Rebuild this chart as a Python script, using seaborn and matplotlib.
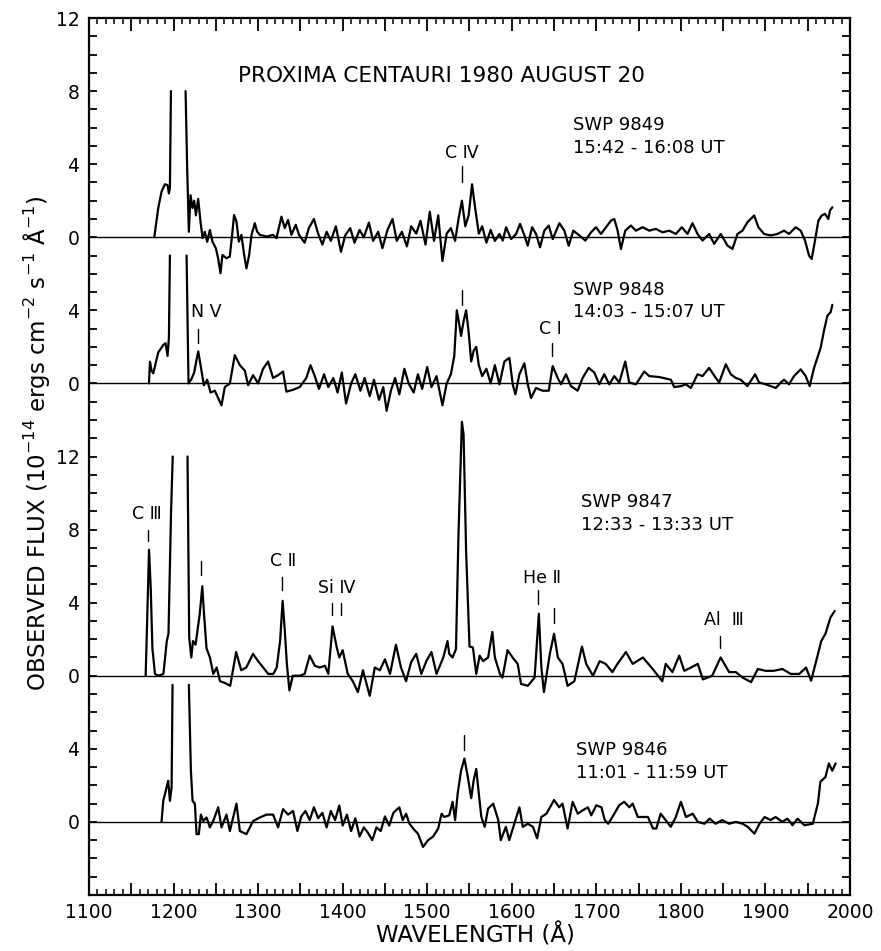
import numpy as np
import pandas as pd
import matplotlib
matplotlib.use("Agg")
import matplotlib.pyplot as plt
from matplotlib.ticker import MultipleLocator, FixedLocator, FuncFormatter
import seaborn as sns

sns.set_theme(style="white")
plt.rcParams["font.family"] = ["DejaVu Sans"]
plt.rcParams["mathtext.fontset"] = "dejavusans"
plt.rcParams["text.color"] = "black"
plt.rcParams["axes.labelcolor"] = "black"
plt.rcParams["xtick.color"] = "black"
plt.rcParams["ytick.color"] = "black"

NAN = np.nan

# ---------------- data (wavelength in Angstrom, flux in 1e-14 units) ----------------
wl_9849 = [1177.2, 1181.9, 1185.8, 1189.8, 1192.9, 1194.5, 1195.7, 1196.9, 1205,
           1214.2, 1216.1, 1218.1, 1220.1, 1222.4, 1224.4, 1226.4, 1229.1, 1231.9, 1234.3,
           1237.0, 1239.8, 1242.9, 1246.1, 1250.0, 1252.7, 1255.5, 1257.8, 1262.5, 1266.5,
           1269.2, 1271.6, 1274.4, 1277.2, 1280.3, 1283.5, 1286.2, 1289.4, 1292.2, 1296.1,
           1298.8, 1302.0, 1309.9, 1317.7, 1321.7, 1327.6, 1331.5, 1335.4, 1339.4, 1344.5,
           1348.4, 1355, 1360, 1366, 1371, 1376, 1381, 1386, 1392, 1398, 1403, 1409, 1414,
           1420, 1425, 1431, 1436, 1442, 1447, 1453, 1459, 1464, 1470, 1476, 1481, 1487,
           1492, 1498, 1503, 1508, 1513, 1518, 1523, 1528, 1533, 1537, 1541, 1545, 1549,
           1553, 1557, 1561, 1565, 1570, 1575, 1580,
           1585.4, 1589.3, 1593.3, 1599.2, 1605.1, 1609.8, 1614.9, 1618.9, 1624.0, 1628.7,
           1633.4, 1638.5, 1643.7, 1648.4, 1656.3, 1662.2, 1667.3, 1672.8, 1679.9, 1687.0,
           1693.7, 1699.6, 1705.5, 1711.4, 1717.3, 1721.2, 1725.2, 1729.1, 1734.2, 1740.9,
           1746.8, 1754.7, 1762.6, 1770.4, 1778.3, 1786.2, 1794.1, 1801.1, 1807.8, 1813.7,
           1819.7, 1825.6, 1833.4, 1839.3, 1847.2, 1855.1, 1861.0, 1866.9, 1872.8, 1878.7,
           1886.6, 1891.7, 1898.4, 1906.3, 1914.1, 1922.0, 1927.9, 1935.8, 1941.7, 1946.8,
           1951.5, 1954.7, 1958.6, 1962.6, 1966.5, 1970.4, 1974.4, 1976.3, 1979.1]
fx_9849 = [0.0, 1.6, 2.5, 2.9, 2.85, 2.4, 2.7, 8.0, NAN,
           8.0, 3.8, 0.3, 2.3, 1.6, 2.0, 1.2, 2.1, 0.85, -0.05,
           0.3, -0.25, 0.4, -0.25, -0.6, -1.15, -1.97, -0.97, -1.15, -1.06,
           0.1, 1.22, 0.86, -0.24, 0.13, -0.97, -1.7, -0.97, 0.13, 0.77,
           0.31, 0.13, 0.04, 0.13, -0.05, 1.13, 0.5, 0.95, 0.13, 0.68,
           0.13, -0.3, 0.5, 1.0, 0.2, -0.4, 0.3, -0.2, 0.6, -0.8, 0.1, 0.5, -0.3,
           0.4, 0.0, 0.8, -0.2, 0.3, -0.6, 0.4, 1.0, -0.2, 0.3, -0.5, 0.6, 0.2,
           0.9, -0.4, 1.4, -0.2, 1.2, -1.3, 0.2, 0.5, -0.2, 1.0, 2.0, 0.6, 1.2,
           2.9, 1.5, 0.2, 0.6, -0.3, 0.4, -0.2,
           0.18, -0.18, 0.55, -0.1, 0.18, 0.73, 0.1, -0.46, 0.55, 0.18,
           -0.55, 0.36, 0.64, -0.1, 0.77, 0.36, -0.46, 0.36, 0.1, -0.18,
           0.27, 0.55, 0.18, 0.55, 0.91, 1.0, 0.36, -0.64, 0.36, 0.64,
           0.36, 0.55, 0.36, 0.46, 0.27, 0.36, 0.18, 0.55, 0.18, 0.77,
           0.18, -0.18, 0.18, -0.36, 0.18, -0.46, -0.64, 0.18, 0.36, 0.82,
           1.19, 0.55, 0.18, 0.1, 0.18, 0.36, 0.18, 0.55, 0.36, -0.18,
           -1.0, -1.19, -0.18, 0.91, 1.19, 1.28, 1.0, 1.46, 1.64]

wl_9848 = [1170.9, 1172.1, 1174.0, 1176.0, 1181.9, 1187.8, 1190.6, 1192.9, 1194.5, 1195.7, 1205,
           1215.4, 1217.7, 1221.3, 1224.4, 1227.2, 1229.2, 1232.3, 1235.8, 1239.8, 1243.7,
           1248.8, 1252.8, 1256.7, 1260.6, 1266.6, 1272.4, 1278.4, 1284.3, 1288.2, 1294.1,
           1300.0, 1305.9, 1311.8, 1317.7, 1323.6, 1329.5, 1333.5, 1341.3, 1349.2,
           1357, 1362, 1367, 1372, 1378, 1383, 1389, 1394, 1399, 1404, 1410, 1415, 1421,
           1426, 1432, 1437, 1443, 1448, 1452, 1457, 1462, 1467, 1473, 1478, 1484, 1489,
           1494, 1500, 1505, 1511, 1518, 1523, 1528, 1532, 1535, 1538, 1540, 1543, 1546,
           1549, 1552, 1555, 1558, 1561, 1565, 1570, 1575, 1580,
           1585.4, 1591.3, 1597.2, 1601.1, 1604.3, 1609.0, 1614.9, 1618.9, 1622.8, 1628.7,
           1636.6, 1643.7, 1648.4, 1654.3, 1658.2, 1664.1, 1670.0, 1677.9, 1683.8, 1690.9,
           1697.6, 1703.5, 1709.4, 1715.3, 1721.2, 1727.1, 1734.2, 1738.9, 1746.8, 1756.7,
           1762.6, 1774.4, 1788.2, 1792.1, 1800.0, 1805.9, 1811.8, 1819.7, 1825.6, 1833.4,
           1841.3, 1845.3, 1853.1, 1859.0, 1864.9, 1870.8, 1878.7, 1887.8, 1892.5, 1900.4,
           1906.3, 1912.2, 1918.1, 1922.0, 1927.9, 1933.8, 1941.7, 1947.6, 1952.3, 1957.5,
           1965.3, 1969.3, 1973.2, 1977.1, 1979.1]
fx_9848 = [0.0, 1.19, 0.7, 0.55, 1.7, 2.1, 2.2, 1.5, 2.5, 7.0, NAN,
           7.0, 0.0, 0.25, 0.6, 1.3, 1.75, 0.9, -0.1, 0.2, -0.5,
           -0.4, -0.8, -1.2, -0.2, 0.0, 1.55, 1.0, 0.7, -0.1, 0.45,
           0.0, 0.8, 1.2, 0.3, 0.45, 0.65, -0.45, -0.35, -0.2,
           0.3, 1.0, 0.4, -0.3, 0.5, -0.2, 0.3, -0.5, 0.6, -1.1, 0.0, 0.5, -0.4,
           0.3, -0.7, 0.2, -0.9, -0.2, -1.5, -0.4, 0.3, -0.6, 0.8, 0.0, -0.5, 0.5,
           -0.3, 0.9, -0.2, 0.4, -1.2, 0.0, 0.5, 1.5, 4.0, 3.2, 2.6, 3.4, 4.0,
           2.8, 1.2, 1.8, 2.0, 1.0, 0.4, 0.8, 0.0, 1.0,
           -0.05, 1.2, 1.4, -0.05, -0.6, 0.5, 1.1, -0.05, -0.8, -0.25,
           -0.4, -0.4, 0.95, 0.3, -0.05, 0.5, -0.15, -0.4, 0.3, 0.85,
           0.6, -0.05, 0.5, -0.05, 0.4, 0.05, 1.2, 0.05, -0.05, 0.65,
           0.4, 0.35, 0.2, -0.2, -0.15, -0.05, -0.25, 0.5, 0.4, 0.85,
           0.3, 0.05, 1.05, 0.5, 0.3, 0.2, -0.15, 0.5, 0.05, -0.05,
           -0.15, -0.25, 0.05, 0.2, -0.05, 0.4, 0.77, 0.4, -0.15, 0.85,
           1.95, 2.9, 3.7, 3.9, 4.3]

wl_9847 = [1167, 1169, 1171, 1173, 1175, 1178, 1182, 1188, 1192, 1194, 1197, 1199, 1208,
           1216.5, 1218.5, 1221, 1223, 1226, 1231, 1234, 1236, 1239, 1243, 1247, 1251,
           1255, 1261, 1267, 1274, 1280, 1286, 1294, 1300, 1306, 1312, 1318, 1322, 1326,
           1329, 1331.5, 1334, 1337, 1341, 1349, 1355, 1361, 1367, 1373, 1379, 1383, 1388,
           1393, 1396, 1400, 1406, 1412, 1418, 1424, 1432, 1438, 1444, 1450, 1456, 1463,
           1469, 1475, 1481, 1487, 1493, 1499, 1505, 1511, 1519, 1524,
           1526, 1530, 1534, 1537, 1541, 1543, 1546, 1550, 1554, 1558, 1562, 1566, 1572,
           1577, 1580, 1586, 1589, 1595, 1601, 1607, 1611, 1619, 1627, 1632, 1635, 1638,
           1645, 1650, 1654.5, 1660, 1666, 1674, 1683, 1688, 1696, 1704, 1711, 1719, 1725,
           1735, 1743, 1755, 1767, 1778, 1782, 1790, 1798, 1804, 1812, 1820, 1826, 1837,
           1847, 1857, 1865, 1873, 1883, 1891, 1900, 1910, 1920, 1930, 1940, 1948, 1954,
           1960, 1966, 1971, 1977, 1982]
fx_9847 = [0.0, 3.4, 6.9, 4.8, 1.5, 0.1, 0.0, 0.1, 1.9, 2.3, 8.9, 12.0, NAN,
           12.0, 2.1, 1.0, 1.9, 1.7, 3.4, 4.9, 3.4, 1.5, 1.0, 0.1, 0.45,
           -0.3, -0.4, -0.55, 1.3, 0.3, 0.45, 1.2, 0.8, 0.45, 0.1, 0.1, 0.45, 1.9,
           4.1, 2.5, 0.65, -0.8, 0.0, 0.0, 0.1, 1.1, 0.55, 0.45, 0.55, 0.1, 2.7,
           1.55, 1.0, 1.4, 0.1, -0.3, -0.9, 0.3, -1.1, 0.45, 0.3, 0.9, 0.1, 1.7,
           0.45, -0.3, 0.75, 1.2, 0.1, 0.8, 1.3, 0.1, 1.0, 1.9,
           1.2, 1.0, 1.46, 7.8, 13.9, 13.2, 6.8, 1.6, 1.55, 0.1, 1.1, 0.8, 1.0,
           2.4, 1.0, 0.1, -0.1, 1.4, 1.0, 0.65, -0.45, -0.55, -0.1, 3.4, 0.45, -0.9,
           1.2, 2.3, 1.0, 0.65, -0.55, -0.3, 1.6, 0.65, 0.0, 0.8, 0.65, 0.2, 0.65,
           1.3, 0.65, 1.0, 0.35, -0.3, 0.65, 0.2, 1.1, 0.27, 0.45, 0.65, -0.2, 0.0,
           1.0, 0.2, 0.2, -0.1, -0.35, 0.37, 0.27, 0.27, 0.37, 0.1, 0.1, 0.45, -0.27,
           0.8, 1.9, 2.3, 3.2, 3.55]

wl_9846 = [1185.8, 1187.8, 1191.8, 1193.7, 1195.7, 1197.7, 1198.8, 1208,
           1218.1, 1220.5, 1222.5, 1225.2, 1227.2, 1229.9, 1232.3, 1235.1, 1239.0, 1242.9,
           1246.9, 1252.8, 1256.7, 1262.6, 1266.6, 1274.4, 1278.4, 1286.2, 1294.1, 1302.0,
           1309.9, 1317.7, 1323.6, 1329.5, 1335.4, 1341.3, 1346.5,
           1351, 1356, 1361, 1366, 1371, 1376, 1381, 1386, 1391, 1396, 1400, 1405, 1410,
           1415, 1420, 1425, 1430, 1435, 1440, 1445, 1450, 1455, 1460,
           1467, 1471, 1475, 1479, 1485, 1489, 1495, 1501, 1507, 1513, 1517, 1520, 1526,
           1530, 1533, 1536, 1540, 1544, 1548, 1552, 1555, 1558, 1561, 1564, 1568, 1572,
           1578, 1584, 1587, 1593, 1597, 1603, 1609, 1613, 1619, 1625, 1630, 1635, 1641,
           1650, 1656, 1660, 1666, 1672, 1678, 1684, 1690, 1694, 1700, 1706, 1710, 1714,
           1719, 1727, 1733, 1739, 1743, 1749, 1761, 1767, 1771, 1776, 1782, 1788, 1794,
           1800, 1806, 1814, 1820, 1828, 1834, 1841, 1849, 1857, 1865, 1873, 1879, 1887,
           1893, 1899, 1906, 1912, 1920, 1926, 1932, 1938, 1946, 1956, 1962, 1965, 1971,
           1975, 1979, 1983]
fx_9846 = [0.0, 1.15, 1.9, 2.25, 1.15, 1.9, 7.5, NAN,
           7.5, 2.8, 1.15, 1.0, -0.67, -0.67, 0.4, 0.05, 0.24, -0.3,
           0.05, 0.8, -0.3, 0.4, -0.5, 1.0, -0.5, -0.67, 0.05, 0.24,
           0.4, 0.4, -0.3, 0.7, 0.4, 0.6, -0.5,
           0.3, 0.6, 0.1, 0.8, 0.2, 0.5, -0.3, 0.6, 0.1, 0.9, -0.2, 0.4, -0.5,
           0.2, -0.8, -0.3, -0.6, -1.0, -0.3, -0.5, 0.3, -0.2, 0.5,
           0.8, 0.1, 0.45, -0.1, -0.45, -0.64, -1.37, -1.0, -0.8, -0.36, 0.45, 0.27, 0.36,
           1.1, 0.1, 1.55, 2.8, 3.47, 2.46, 1.3, 2.3, 2.9, 1.55, 0.27, -0.27, 0.73,
           1.0, 0.1, -1.0, -0.27, -1.0, -0.1, 0.8, -0.27, -0.1, -0.27, -0.9, 0.27, 0.45,
           1.2, 0.8, 1.0, -0.36, 1.1, 0.45, 0.64, 0.8, 0.36, 0.91, 0.8, 0.1, -0.1,
           0.27, 0.91, 1.1, 0.8, 1.0, 0.27, 0.27, -0.36, -0.36, 0.45, 0.1, -0.27, 0.27,
           1.1, 0.27, 0.45, 0.0, -0.1, 0.18, -0.1, 0.1, -0.1, 0.0, -0.1, -0.27, -0.64,
           -0.1, 0.27, 0.1, 0.27, 0.0, 0.18, -0.18, 0.18, -0.18, -0.1, 1.0, 2.2, 2.46,
           3.2, 2.8, 3.2]

spec_names = ["SWP 9849", "SWP 9848", "SWP 9847", "SWP 9846"]
spec_times = ["15:42 - 16:08 UT", "14:03 - 15:07 UT", "12:33 - 13:33 UT", "11:01 - 11:59 UT"]
spec_offsets = [32, 24, 8, 0]
spec_wl = [wl_9849, wl_9848, wl_9847, wl_9846]
spec_fx = [fx_9849, fx_9848, fx_9847, fx_9846]

ytick_pos = [0, 4, 8, 12, 16, 20, 24, 28, 32, 36, 40, 44]
ytick_lab = ["0", "4", "0", "4", "8", "12", "0", "4", "0", "4", "8", "12"]

# spectral line identifications: (text, wavelength, y)
line_labels = [("C Ⅳ", 1541, 36.6), ("N Ⅴ", 1239, 27.9), ("C I", 1646, 27.0),
               ("C Ⅲ", 1168, 16.85), ("C Ⅱ", 1329, 14.3), ("Si Ⅳ", 1393, 12.8),
               ("He Ⅱ", 1636, 13.35), ("Al  Ⅲ", 1851, 11.05)]
line_ticks = [(1540.6, 35.0, 35.9), (1229, 26.2, 27.0), (1647, 25.5, 26.2), (1541, 28.3, 29.1),
              (1170, 15.4, 16.0), (1232, 13.5, 14.3), (1328, 12.7, 13.4),
              (1387, 11.3, 12.0), (1398, 11.3, 12.0), (1631.5, 11.9, 12.7),
              (1650, 10.9, 11.7), (1846.5, 9.5, 10.2), (1543, 3.94, 4.75)]
label_pos = [(1672, 38.15, 36.9), (1672, 29.1, 27.9), (1682, 17.5, 16.25), (1676, 3.96, 2.7)]

# ---------------- build table ----------------
frames = []
for name, wl, fx, off in zip(spec_names, spec_wl, spec_fx, spec_offsets):
    wl = np.asarray(wl, float)
    fx = np.asarray(fx, float)
    seg = np.cumsum(np.isnan(fx))
    d = pd.DataFrame({"wl": wl, "flux": fx + off, "seg": seg})
    d = d.dropna()
    d["unit"] = name + "_" + d["seg"].astype(str)
    frames.append(d)
df = pd.concat(frames, ignore_index=True)

fig = plt.figure(figsize=(8.81, 9.51), dpi=100)
ax = fig.add_axes([89 / 881, 1 - 895 / 951, (850 - 89) / 881, (895 - 18) / 951])

sns.lineplot(data=df, x="wl", y="flux", units="unit", estimator=None, sort=False,
             color="black", lw=1.6, ax=ax, legend=False)

for off in spec_offsets:
    ax.axhline(off, color="black", lw=1.0, zorder=1)

ax.set_xlim(1100, 2000)
ax.set_ylim(-4, 44)
ax.set_xlabel("")
ax.set_ylabel("")

# ticks
ax.xaxis.set_major_locator(MultipleLocator(50))
ax.xaxis.set_minor_locator(MultipleLocator(10))
ax.xaxis.set_major_formatter(FuncFormatter(lambda v, p: f"{int(v)}" if int(v) % 100 == 0 else ""))
ax.yaxis.set_major_locator(FixedLocator(ytick_pos))
ax.set_yticklabels(ytick_lab)
ax.yaxis.set_minor_locator(MultipleLocator(1))
ax.tick_params(axis="x", which="major", direction="in", length=9, width=1.3, top=True, bottom=True,
               labelsize=13.5, pad=6, colors="black")
ax.tick_params(axis="x", which="minor", direction="in", length=4, width=1.1, top=True, bottom=True)
ax.tick_params(axis="y", which="both", direction="in", length=6, width=1.3, left=True, right=True,
               labelsize=13.5, pad=7, colors="black")
for s in ax.spines.values():
    s.set_color("black")
    s.set_linewidth(1.6)

# texts
ax.text(1276, 40.8, "PROXIMA CENTAURI 1980 AUGUST 20", fontsize=15.6, ha="left", va="center",
        color="black")
for (x, y1, y2), n, t in zip(label_pos, spec_names, spec_times):
    ax.text(x, y1, n, fontsize=13, ha="left", va="center", color="black")
    ax.text(x, y2, t, fontsize=13, ha="left", va="center", color="black")
for t, x, y in line_labels:
    ax.text(x, y, t, fontsize=12.5, ha="center", va="center", color="black")
for x, y0, y1 in line_ticks:
    ax.plot([x, x], [y0, y1], color="black", lw=1.0)

fig.text(37 / 881, 1 - 443 / 951,
         r"OBSERVED FLUX (10$^{-14}$ ergs cm$^{-2}$ s$^{-1}$ Å$^{-1}$)",
         rotation=90, ha="center", va="center", fontsize=16.5, color="black")
fig.text(475 / 881, 1 - 935 / 951, "WAVELENGTH (Å)", ha="center", va="center", fontsize=16.5,
         color="black")

fig.savefig("out.png", dpi=100, facecolor="white")
